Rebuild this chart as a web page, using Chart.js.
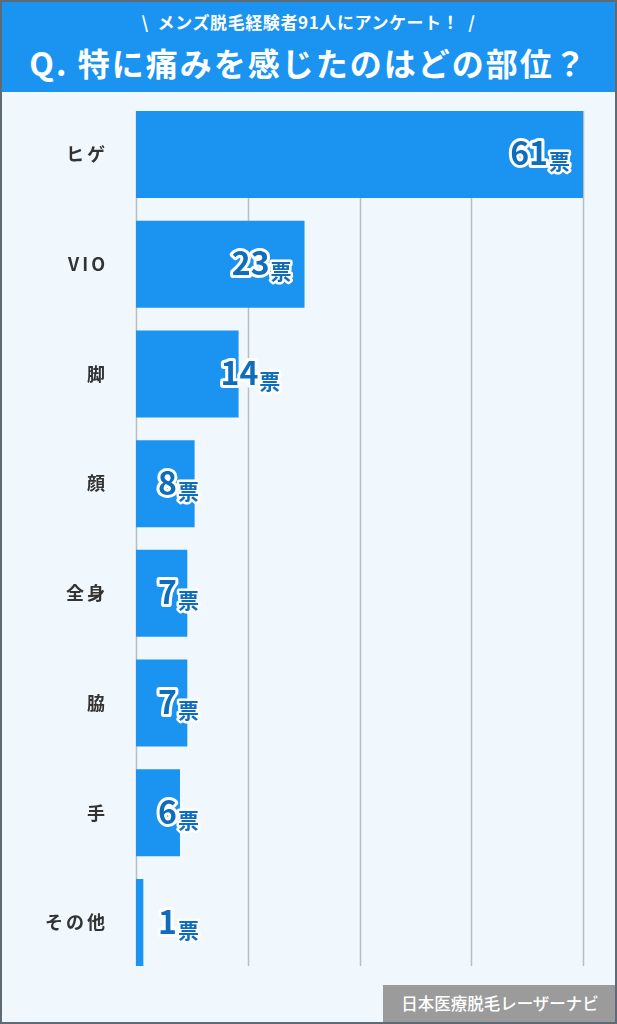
<!DOCTYPE html>
<html lang="ja">
<head>
<meta charset="utf-8">
<title>特に痛みを感じたのはどの部位？</title>
<script src="https://cdn.jsdelivr.net/npm/chart.js@4/dist/chart.umd.min.js"></script>
<style>
  html, body { margin: 0; padding: 0; }
  body { width: 617px; height: 1024px; position: relative; overflow: hidden; background: #f0f8fd;
         font-family: "Noto Sans CJK JP", "Noto Sans", sans-serif; }
  #wrap { position: absolute; left: 0; top: 0; width: 617px; height: 1024px; }
  #head { position: absolute; left: 0; top: 0; width: 617px; height: 92px; background: #1a94f0; color: #fff; text-align: center; }
  #head .sub { position: absolute; left: 0; right: 0; top: 9px; font-size: 17px; font-weight: 700; letter-spacing: 0.6px; line-height: 26px; }
  #head .main { position: absolute; left: 0; right: 0; top: 39px; font-size: 32px; font-weight: 700; letter-spacing: 2px; line-height: 46px; }
  #credit { position: absolute; left: 383px; top: 985px; width: 234px; height: 39px; background: #9b9b9b; color: #fff;
            font-size: 16.5px; font-weight: 500; line-height: 37px; text-align: center; }
  #frame { position: absolute; left: 0; top: 0; width: 617px; height: 1024px; box-sizing: border-box; border: 2px solid #5f6b74; pointer-events: none; }
</style>
</head>
<body>
<div id="wrap"><canvas id="grafico"></canvas></div>
<div id="head">
  <div class="sub">\&nbsp; メンズ脱毛経験者91人にアンケート！ &nbsp;/</div>
  <div class="main">Q. 特に痛みを感じたのはどの部位？</div>
</div>
<div id="credit">日本医療脱毛レーザーナビ</div>
<div id="frame"></div>
<script>
const partes = ["ヒゲ", "VIO", "脚", "顔", "全身", "脇", "手", "その他"];
const votos = [61, 23, 14, 8, 7, 7, 6, 1];
const unidade = "票";
const escalaMax = 61;
const passoGrade = 15.25;

const fonte = '"Noto Sans CJK JP", "Noto Sans", sans-serif';

// linhas de grade só entre o topo da primeira barra e o fim da última
const grade = {
  id: "grade",
  beforeDatasetsDraw(chart) {
    const ctx = chart.ctx;
    const barras = chart.getDatasetMeta(0).data;
    const topo = barras[0].y - barras[0].height / 2;
    const fim = barras[barras.length - 1].y + barras[barras.length - 1].height / 2;
    const x = chart.scales.x;
    ctx.save();
    ctx.strokeStyle = "#b7bec4";
    ctx.lineWidth = 1.5;
    x.ticks.forEach((t) => {
      const px = Math.round(x.getPixelForValue(t.value)) + 0.5;
      ctx.beginPath();
      ctx.moveTo(px, topo);
      ctx.lineTo(px, fim);
      ctx.stroke();
    });
    ctx.restore();
  },
};

const espacoLetras = {
  id: "espacoLetras",
  beforeDraw(chart) { chart.ctx.letterSpacing = "3px"; },
  beforeDatasetsDraw(chart) { chart.ctx.letterSpacing = "0px"; },
};

const rotulos = {
  id: "rotulos",
  afterDatasetsDraw(chart) {
    const ctx = chart.ctx;
    const barras = chart.getDatasetMeta(0).data;
    ctx.save();
    ctx.textBaseline = "alphabetic";
    ctx.textAlign = "left";
    ctx.lineJoin = "round";
    barras.forEach((barra, i) => {
      const num = String(votos[i]);
      ctx.font = "bold 32px " + fonte;
      const wn = ctx.measureText(num).width;
      ctx.font = "bold 21px " + fonte;
      const wu = ctx.measureText(unidade).width;
      const total = wn + 1 + wu;
      const largura = barra.x - barra.base;
      let esq;
      if (largura > 150) esq = barra.x - 13 - total;
      else if (largura > 90) esq = barra.x - 18;
      else esq = barra.base + 22;
      const base = barra.y + 11;

      ctx.font = "bold 32px " + fonte;
      ctx.strokeStyle = "#ffffff";
      ctx.lineWidth = 6;
      ctx.strokeText(num, esq, base);
      ctx.fillStyle = "#0f6dbd";
      ctx.fillText(num, esq, base);

      ctx.font = "bold 21px " + fonte;
      ctx.lineWidth = 5;
      ctx.strokeText(unidade, esq + wn + 1, base + 4);
      ctx.fillText(unidade, esq + wn + 1, base + 4);
    });
    ctx.restore();
  },
};

const grafico = new Chart(document.getElementById("grafico"), {
  type: "bar",
  data: {
    labels: partes,
    datasets: [
      {
        label: "票数",
        data: votos,
        backgroundColor: "#1a94f0",
        borderWidth: 0,
        categoryPercentage: 1,
        barPercentage: 0.793,
      },
    ],
  },
  options: {
    indexAxis: "y",
    responsive: true,
    maintainAspectRatio: false,
    animation: false,
    layout: { padding: { top: 99.6, bottom: 46.6, left: 0, right: 34 } },
    plugins: { legend: { display: false }, tooltip: { enabled: false } },
    scales: {
      x: {
        display: false,
        min: 0,
        max: escalaMax,
        ticks: { stepSize: passoGrade },
      },
      y: {
        grid: { display: false, drawTicks: false },
        border: { display: false },
        ticks: {
          color: "#333333",
          padding: 28,
          font: { family: fonte, size: 18, weight: "bold" },
        },
        afterFit: (s) => { s.width = 136; },
      },
    },
  },
  plugins: [grade, espacoLetras, rotulos],
});
</script>
</body>
</html>
